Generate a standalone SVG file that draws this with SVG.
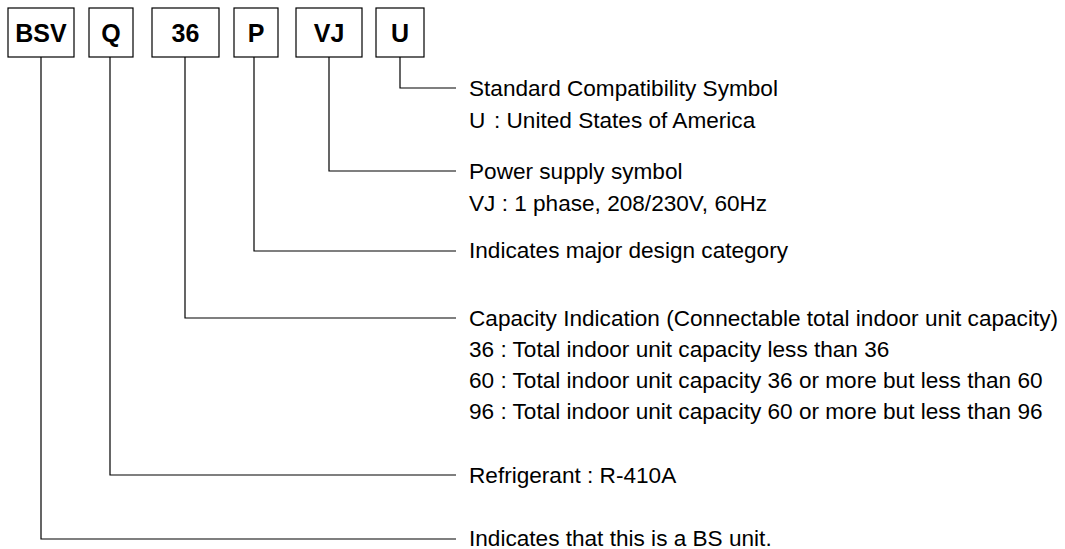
<svg xmlns="http://www.w3.org/2000/svg" width="1065" height="549" viewBox="0 0 1065 549">
<style>
.box{fill:#fff;stroke:#000;stroke-width:1.2}
.code{font-family:"Liberation Sans",Arial,sans-serif;font-weight:bold;font-size:25px;text-anchor:middle;fill:#000}
.lbl{font-family:"Liberation Sans",Arial,sans-serif;font-size:22.6px;fill:#000}
.ln{fill:none;stroke:#000;stroke-width:1.2}
</style>
<rect width="1065" height="549" fill="#fff"/>
<g id="node-BSV"><rect class="box" x="8" y="8" width="66" height="49"/><text class="code" x="41" y="42">BSV</text></g>
<g id="node-Q"><rect class="box" x="89" y="8" width="44" height="49"/><text class="code" x="111" y="42">Q</text></g>
<g id="node-36"><rect class="box" x="152" y="8" width="67" height="49"/><text class="code" x="185.5" y="42">36</text></g>
<g id="node-P"><rect class="box" x="234" y="8" width="44" height="49"/><text class="code" x="256" y="42">P</text></g>
<g id="node-VJ"><rect class="box" x="296" y="8" width="66" height="49"/><text class="code" x="329" y="42">VJ</text></g>
<g id="node-U"><rect class="box" x="376" y="8" width="48" height="49"/><text class="code" x="400" y="42">U</text></g>
<g id="connectors">
<polyline class="ln" points="400,57 400,88 456,88"/>
<polyline class="ln" points="329,57 329,171 456,171"/>
<polyline class="ln" points="254,57 254,251 456,251"/>
<polyline class="ln" points="185,57 185,318 456,318"/>
<polyline class="ln" points="110,57 110,475 456,475"/>
<polyline class="ln" points="41,57 41,539 456,539"/>
</g>
<g id="labels">
<text class="lbl" x="469" y="96">Standard Compatibility Symbol</text>
<text class="lbl" x="469" y="128">U</text><text class="lbl" x="494" y="128">: United States of America</text>
<text class="lbl" x="469" y="179">Power supply symbol</text>
<text class="lbl" x="469" y="211">VJ : 1 phase, 208/230V, 60Hz</text>
<text class="lbl" x="469" y="258">Indicates major design category</text>
<text class="lbl" x="469" y="326">Capacity Indication (Connectable total indoor unit capacity)</text>
<text class="lbl" x="469" y="357">36 : Total indoor unit capacity less than 36</text>
<text class="lbl" x="469" y="388">60 : Total indoor unit capacity 36 or more but less than 60</text>
<text class="lbl" x="469" y="419">96 : Total indoor unit capacity 60 or more but less than 96</text>
<text class="lbl" x="469" y="483">Refrigerant : R-410A</text>
<text class="lbl" x="469" y="546">Indicates that this is a BS unit.</text>
</g>
</svg>
